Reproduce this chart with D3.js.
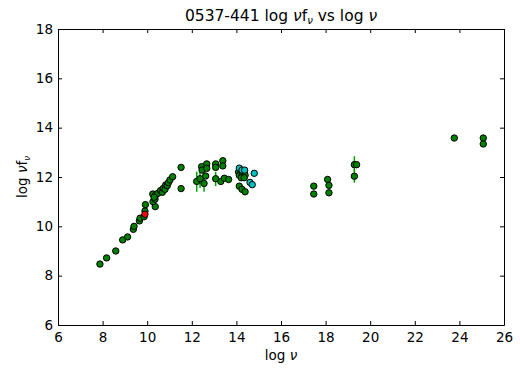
<!DOCTYPE html>
<html>
<head>
<meta charset="utf-8">
<script src="https://cdn.jsdelivr.net/npm/d3@7"></script>
<style>
  body { margin: 0; background: #fff; }
  svg { font-family: "DejaVu Sans", sans-serif; }
</style>
</head>
<body>
<svg id="chart" width="520" height="372"></svg>
<script>
// log nu, log nu*f_nu for each marker group
const greenX = [7.88, 8.18, 8.59, 8.90, 9.12, 9.38, 9.41, 9.65, 9.68, 9.86, 9.90, 9.92,
  10.36, 10.26, 10.35, 10.25, 10.38, 10.48, 10.60, 10.68, 10.72, 10.80, 10.83, 10.90,
  10.95, 11.02, 11.14, 11.52, 11.52, 10.31,
  12.44, 12.46, 12.67, 12.67, 13.07, 13.07, 13.39, 13.39,
  12.22, 12.37, 12.55, 12.62, 13.07, 13.30, 13.46, 13.65,
  14.10, 14.24, 14.35, 14.13, 14.26, 14.39, 14.22, 14.35, 14.13, 14.25, 14.39,
  17.47, 17.47, 18.09, 18.15, 18.15, 19.29, 19.39, 19.29,
  23.77, 25.07, 25.07];
const greenY = [8.47, 8.72, 9.00, 9.45, 9.57, 9.88, 10.00, 10.22, 10.33, 10.39, 10.62, 10.88,
  10.80, 11.00, 11.10, 11.31, 11.27, 11.34, 11.45, 11.38, 11.54, 11.50, 11.68, 11.65,
  11.77, 11.88, 12.01, 12.39, 11.53, 11.18,
  12.42, 12.28, 12.53, 12.35, 12.53, 12.39, 12.66, 12.45,
  11.82, 11.93, 11.74, 12.04, 11.93, 11.82, 11.95, 11.90,
  12.20, 12.19, 12.17, 12.07, 12.07, 12.07, 11.97, 11.97, 11.63, 11.50, 11.40,
  11.63, 11.31, 11.90, 11.66, 11.36, 12.50, 12.50, 12.03,
  13.58, 13.58, 13.34];
const cyanX = [14.13, 14.25, 14.37, 14.80, 14.61, 14.71];
const cyanY = [12.36, 12.28, 12.28, 12.15, 11.78, 11.69];
const redX = [9.90];
const redY = [10.49];

// vertical error bars: position, low, high
const errX = [12.22, 12.37, 12.55, 13.07, 19.29, 19.29];
const errLo = [11.40, 11.55, 11.40, 11.63, 12.20, 11.77];
const errHi = [12.22, 12.24, 12.04, 12.21, 12.84, 12.30];

const xTicks = [6, 8, 10, 12, 14, 16, 18, 20, 22, 24, 26];
const yTicks = [6, 8, 10, 12, 14, 16, 18];

const svg = d3.select("#chart");
const margin = { top: 29, right: 16, bottom: 47, left: 58 };
const width = 520 - margin.left - margin.right;
const height = 372 - margin.top - margin.bottom;

const x = d3.scaleLinear().domain([6, 26]).range([0, width]);
const y = d3.scaleLinear().domain([6, 18]).range([height, 0]);

const g = svg.append("g")
  .attr("transform", "translate(" + margin.left + "," + margin.top + ")");

// error bars
g.selectAll(".err")
  .data(errX)
  .enter().append("line")
  .attr("class", "err")
  .attr("x1", d => x(d))
  .attr("x2", d => x(d))
  .attr("y1", (d, i) => y(errLo[i]))
  .attr("y2", (d, i) => y(errHi[i]))
  .style("stroke", "#00a000")
  .style("stroke-width", 1.5);

function dots(xs, ys, color) {
  g.append("g").selectAll("circle")
    .data(xs)
    .enter().append("circle")
    .attr("cx", d => x(d))
    .attr("cy", (d, i) => y(ys[i]))
    .attr("r", 3.2)
    .style("fill", color)
    .style("stroke", "#000")
    .style("stroke-width", 1);
}
dots(greenX, greenY, "#008000");
dots(cyanX, cyanY, "#00bfbf");
dots(redX, redY, "#ff0000");

// axes: ticks inward on all four sides
const tickFmt = d3.format("d");
g.append("g")
  .attr("transform", "translate(0," + height + ")")
  .call(d3.axisBottom(x).tickValues(xTicks).tickFormat(tickFmt).tickSizeInner(-4).tickSizeOuter(0).tickPadding(7));
g.append("g")
  .call(d3.axisTop(x).tickValues(xTicks).tickFormat("").tickSizeInner(-4).tickSizeOuter(0));
g.append("g")
  .call(d3.axisLeft(y).tickValues(yTicks).tickFormat(tickFmt).tickSizeInner(-4).tickSizeOuter(0).tickPadding(5));
g.append("g")
  .attr("transform", "translate(" + width + ",0)")
  .call(d3.axisRight(y).tickValues(yTicks).tickFormat("").tickSizeInner(-4).tickSizeOuter(0));

g.selectAll(".domain").style("stroke", "#000").style("stroke-width", 1);
g.selectAll(".tick line").style("stroke", "#000");
g.selectAll(".tick text")
  .style("font-family", "DejaVu Sans")
  .style("font-size", "13.5px")
  .style("fill", "#000");

// title
const title = svg.append("text")
  .attr("x", margin.left + width / 2)
  .attr("y", 21)
  .attr("text-anchor", "middle")
  .style("font-size", "15.5px");
title.append("tspan").text("0537-441 log ");
title.append("tspan").style("font-style", "italic").text("ν");
title.append("tspan").text("f");
title.append("tspan").attr("dy", 3).style("font-size", "10px").style("font-style", "italic").text("ν");
title.append("tspan").attr("dy", -3).text(" vs log ");
title.append("tspan").style("font-style", "italic").text("ν");

// x label
const xl = svg.append("text")
  .attr("x", margin.left + width / 2)
  .attr("y", 360)
  .attr("text-anchor", "middle")
  .style("font-size", "13.5px");
xl.append("tspan").text("log ");
xl.append("tspan").style("font-style", "italic").text("ν");

// y label
const yl = svg.append("text")
  .attr("transform", "translate(27," + (margin.top + height / 2) + ") rotate(-90)")
  .attr("text-anchor", "middle")
  .style("font-size", "13.5px");
yl.append("tspan").text("log ");
yl.append("tspan").style("font-style", "italic").text("ν");
yl.append("tspan").text("f");
yl.append("tspan").attr("dy", 3).style("font-size", "8.5px").style("font-style", "italic").text("ν");
</script>
</body>
</html>
